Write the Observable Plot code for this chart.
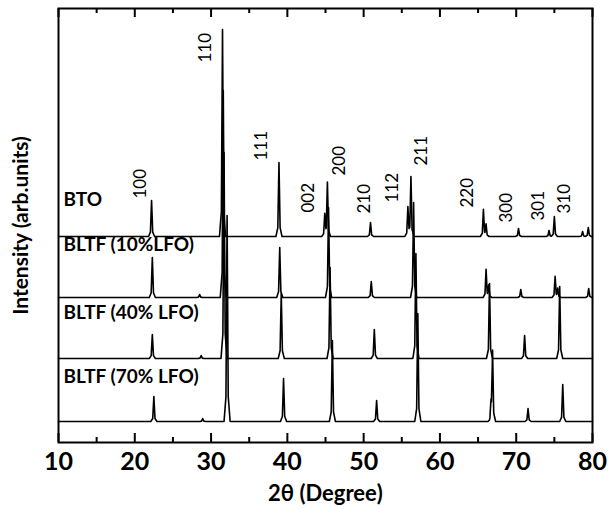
<!DOCTYPE html>
<html><head><meta charset="utf-8">
<script src="https://cdn.jsdelivr.net/npm/d3@7"></script>
<script src="https://cdn.jsdelivr.net/npm/@observablehq/plot@0.6"></script>
<style>body{margin:0;background:#fff}</style>
</head><body><div id="chart"></div>
<script>
// ---- data ----
const seriesNames = ["BTO", "BLTF (10%LFO)", "BLTF (40% LFO)", "BLTF (70% LFO)"];
const seriesOffsets = [206, 145, 84, 21];          // vertical stacking offsets (arb. units)
const seriesLabelY = [243, 198, 130, 66];
// peaks: [2θ, intensity above own baseline]
const btoPeaks = [[22.2,36],[31.5,207],[38.9,74],[44.9,22],[45.25,54],[50.9,14],[55.8,30],[56.2,60],[65.7,27],[66.05,12],[70.3,8],[74.3,6],[75.0,20],[78.7,5],[79.45,9]];
const bltf10Peaks = [[22.3,40],[28.5,3],[31.6,207],[39.0,50],[45.4,90],[51.0,16],[56.55,95],[66.05,28],[66.4,12],[70.6,8],[75.1,21],[75.45,9],[79.5,9]];
const bltf40Peaks = [[22.3,24],[28.7,3],[31.7,206],[39.2,65],[45.6,91],[51.4,29],[56.85,105],[66.5,75],[71.1,23],[75.7,72]];
const bltf70Peaks = [[22.5,25],[28.9,3],[32.1,206],[39.5,43],[45.9,81],[51.7,21],[57.1,108],[66.7,16],[66.9,70],[71.55,13],[76.1,37]];
const hklLabels = ["100","110","111","002","200","210","112","211","220","300","301","310"];
const hklX = [20.75,29.32,36.65,42.8,46.86,50.13,53.8,57.6,63.6,68.7,72.9,76.4];
const hklY = [244,380,282,230,267,229,240,277,235,220,222,229];
const majorTicks = [10,20,30,40,50,60,70,80];
const minorTicks = [15,25,35,45,55,65,75];

// ---- build profiles (each peak drawn as a narrow spike) ----
const peakShape = [[-0.4,0],[-0.15,0.12],[0,1],[0.15,0.12],[0.4,0]];
function profile(peaks, offset, name) {
  const xs = new Set([10, 80]);
  for (const [p] of peaks) for (const [dx] of peakShape) xs.add(+(p + dx).toFixed(4));
  const sorted = [...xs].filter(x => x >= 10 && x <= 80).sort((a, b) => a - b);
  return sorted.map(x => {
    let y = offset;
    for (const [p, h] of peaks) {
      const d = x - p;
      if (d <= -0.4 || d >= 0.4) continue;
      for (let i = 0; i < peakShape.length - 1; i++) {
        const [a, fa] = peakShape[i], [b, fb] = peakShape[i + 1];
        if (d >= a && d <= b) { y += h * (fa + (fb - fa) * (d - a) / (b - a)); break; }
      }
    }
    return {series: name, x, y};
  });
}
const allPeaks = [btoPeaks, bltf10Peaks, bltf40Peaks, bltf70Peaks];
const traces = allPeaks.flatMap((pk, i) => profile(pk, seriesOffsets[i], seriesNames[i]));
const seriesTable = seriesNames.map((n, i) => ({name: n, y: seriesLabelY[i]}));
const hklTable = hklLabels.map((t, i) => ({t, x: hklX[i], y: hklY[i]}));

const chart = Plot.plot({
  width: 608, height: 509,
  marginLeft: 58, marginRight: 16, marginTop: 8, marginBottom: 67,
  x: {domain: [10, 80]},
  y: {domain: [0, 434]},
  style: {fontFamily: "Lato, 'Open Sans', sans-serif", background: "#fff", color: "#000"},
  marks: [
    Plot.line(traces, {x: "x", y: "y", z: "series", stroke: "#000", strokeWidth: 1.6, curve: "linear"}),
    Plot.ruleX(majorTicks, {x: d => d, y1: 0, y2: 9, stroke: "#000", strokeWidth: 2}),
    Plot.ruleX(minorTicks, {x: d => d, y1: 0, y2: 5, stroke: "#000", strokeWidth: 2}),
    Plot.ruleX(majorTicks, {x: d => d, y1: 425, y2: 434, stroke: "#000", strokeWidth: 2}),
    Plot.ruleX(minorTicks, {x: d => d, y1: 429, y2: 434, stroke: "#000", strokeWidth: 2}),
    Plot.text(seriesTable, {x: 10, y: "y", text: "name", textAnchor: "start", lineAnchor: "middle", dx: 5, fontSize: 19, fontWeight: "bold", fill: "#000"}),
    Plot.text(hklTable, {x: "x", y: "y", text: "t", rotate: -90, textAnchor: "start", lineAnchor: "middle", fontSize: 17, fill: "#000"}),
    Plot.axisX({ticks: majorTicks, tickSize: 0, tickPadding: 10, fontSize: 25, fontWeight: "bold", label: null, tickFormat: d => String(d)}),
    Plot.axisX({ticks: [], tickSize: 0, label: "2θ (Degree)", labelAnchor: "center", labelOffset: 58, labelArrow: "none", fontSize: 22, fontWeight: "bold"}),
    Plot.axisY({ticks: [], tickSize: 0, label: "Intensity (arb.units)", labelAnchor: "center", labelOffset: 45, labelArrow: "none", fontSize: 21, fontWeight: "bold"}),
    Plot.frame({stroke: "#000", strokeWidth: 2})
  ]
});
document.getElementById("chart").appendChild(chart);
</script></body></html>
